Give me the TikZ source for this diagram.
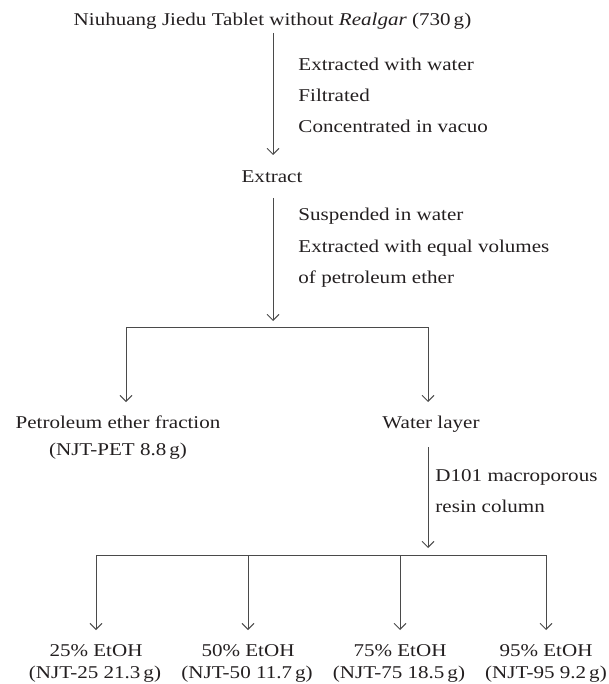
\documentclass[tikz,border=0pt]{standalone}
\usepackage{fontspec}
\setmainfont{Liberation Serif}[FakeStretch=1.17]
\usetikzlibrary{arrows.meta}
\definecolor{txt}{HTML}{231F20}
\definecolor{ln}{HTML}{4A4A4A}
\newcommand{\fs}{\fontsize{18}{22}\selectfont\color{txt}}
\begin{document}
\begin{tikzpicture}[x=1pt,y=-1pt,line width=0.9pt,
  lbl/.style={inner sep=0pt,anchor=base west,font=\fs},
  ctr/.style={inner sep=0pt,anchor=base,font=\fs},
  arr/.style={draw=ln,-{Straight Barb[length=6pt,width=12pt,line width=0.9pt]}},
  barline/.style={draw=ln}]
\useasboundingbox (0,0) rectangle (608,684);
% texts
\node[ctr] (title) at (272.5,26) {Niuhuang Jiedu Tablet without \textit{Realgar} (730\,g)};
\node[lbl] (s1a) at (298,71) {Extracted with water};
\node[lbl] (s1b) at (298,102) {Filtrated};
\node[lbl] (s1c) at (298,133) {Concentrated in vacuo};
\node[ctr] (extract) at (272,183) {Extract};
\node[lbl] (s2a) at (298,221) {Suspended in water};
\node[lbl] (s2b) at (298,252) {Extracted with equal volumes};
\node[lbl] (s2c) at (298,283) {of petroleum ether};
\node[ctr] (pet) at (118,428) {Petroleum ether fraction};
\node[ctr] (pet2) at (118,455) {(NJT-PET 8.8\,g)};
\node[ctr] (water) at (431,428) {Water layer};
\node[lbl] (s3a) at (435,481) {D101 macroporous};
\node[lbl] (s3b) at (435,512) {resin column};
\node[ctr] (f25) at (96,656) {25\% EtOH};
\node[ctr] (f25b) at (95,678) {(NJT-25 21.3\,g)};
\node[ctr] (f50) at (248,656) {50\% EtOH};
\node[ctr] (f50b) at (247,678) {(NJT-50 11.7\,g)};
\node[ctr] (f75) at (400,656) {75\% EtOH};
\node[ctr] (f75b) at (399,678) {(NJT-75 18.5\,g)};
\node[ctr] (f95) at (546,656) {95\% EtOH};
\node[ctr] (f95b) at (546,678) {(NJT-95 9.2\,g)};
% coordinates
\coordinate (a1s) at (273,33);  \coordinate (a1e) at (273,155);
\coordinate (a2s) at (273,198); \coordinate (a2e) at (273,321);
\coordinate (b1l) at (126,327); \coordinate (b1r) at (428,327);
\coordinate (b1le) at (126,402); \coordinate (b1re) at (428,402);
\coordinate (a3s) at (428,447); \coordinate (a3e) at (428,548);
\coordinate (b2a) at (96,555); \coordinate (b2b) at (248,555);
\coordinate (b2c) at (400,555); \coordinate (b2d) at (546,555);
\coordinate (e2a) at (96,630); \coordinate (e2b) at (248,630);
\coordinate (e2c) at (400,630); \coordinate (e2d) at (546,630);
% connectors
\draw[arr] (a1s) -- (a1e);
\draw[arr] (a2s) -- (a2e);
\draw[barline] (b1l) -- (b1r);
\draw[arr] (b1l) -- (b1le);
\draw[arr] (b1r) -- (b1re);
\draw[arr] (a3s) -- (a3e);
\draw[barline] (b2a) -- (b2d);
\draw[arr] (b2a) -- (e2a);
\draw[arr] (b2b) -- (e2b);
\draw[arr] (b2c) -- (e2c);
\draw[arr] (b2d) -- (e2d);
\end{tikzpicture}
\end{document}
